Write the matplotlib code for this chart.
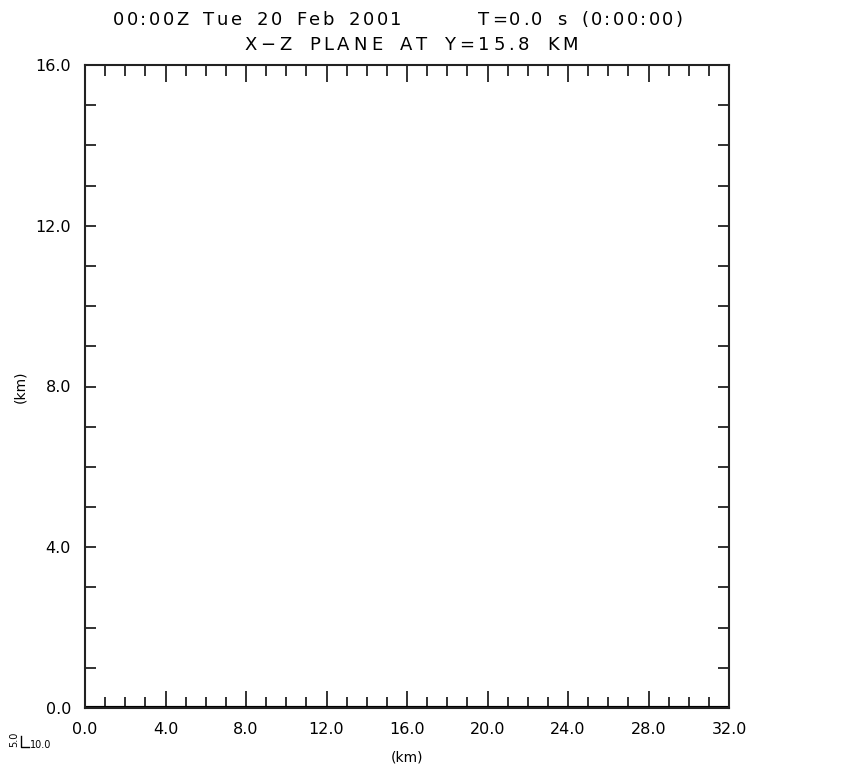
import matplotlib.pyplot as plt
from matplotlib.ticker import MultipleLocator

# terrain along the bottom of the x-z cross section (flat)
x_km = [0.0, 32.0]
terrain_km = [0.0, 0.0]

title1 = "00:00Z Tue 20 Feb 2001      T=0.0 s (0:00:00)"
title2 = "X\u2212Z PLANE AT Y=15.8 KM"

W, H = 846, 768
fig = plt.figure(figsize=(W / 100, H / 100), dpi=100)
ax = fig.add_axes([85 / W, 1 - 708 / H, 644 / W, 643 / H])

ax.plot(x_km, terrain_km, color="black", linewidth=3, solid_capstyle="butt")

ax.set_xlim(0, 32)
ax.set_ylim(0, 16)
ax.xaxis.set_major_locator(MultipleLocator(4))
ax.xaxis.set_minor_locator(MultipleLocator(1))
ax.yaxis.set_major_locator(MultipleLocator(4))
ax.yaxis.set_minor_locator(MultipleLocator(1))
ax.xaxis.set_major_formatter(lambda v, p: f"{v:.1f}")
ax.yaxis.set_major_formatter(lambda v, p: f"{v:.1f}")
ax.tick_params(which="both", direction="in", top=True, right=True,
               width=1.3, color="#222222", labelsize=11.5, pad=10)
ax.tick_params(which="major", length=12)
ax.tick_params(which="minor", length=8)
ax.tick_params(axis="y", which="major", length=8)
for s in ax.spines.values():
    s.set_linewidth(1.5)
    s.set_color("#222222")

ax.set_xlabel("(km)", fontsize=10, labelpad=10)
ax.set_ylabel("(km)", fontsize=10, labelpad=6)


def spaced_text(s, x0, x1, y, size):
    # lay characters out one by one so the line fills x0..x1 (pixels)
    r = fig.canvas.get_renderer()
    sp = size * 1.39 * 0.55
    widths = []
    for ch in s:
        if ch == " ":
            widths.append(sp)
        else:
            t = fig.text(0, 0, ch, fontsize=size)
            widths.append(t.get_window_extent(r).width)
            t.remove()
    gap = (x1 - x0 - sum(widths)) / (len(s) - 1)
    x = x0
    for ch, w in zip(s, widths):
        if ch != " ":
            fig.text(x / W, 1 - y / H, ch, fontsize=size, ha="left", va="center")
        x += w + gap


spaced_text(title1, 113, 683, 20, 13)
spaced_text(title2, 244, 578, 45, 13)

# small reference-vector legend in the lower-left corner
fig.text(14 / W, 1 - 739 / H, "5.0", rotation=90, ha="center", va="center", fontsize=7)
fig.add_artist(plt.Line2D([21 / W, 21 / W, 29 / W],
                          [1 - 736 / H, 1 - 747 / H, 1 - 747 / H],
                          color="black", linewidth=1))
fig.text(30 / W, 1 - 745 / H, "10.0", ha="left", va="center", fontsize=7)

fig.savefig("out.png", dpi=100)
